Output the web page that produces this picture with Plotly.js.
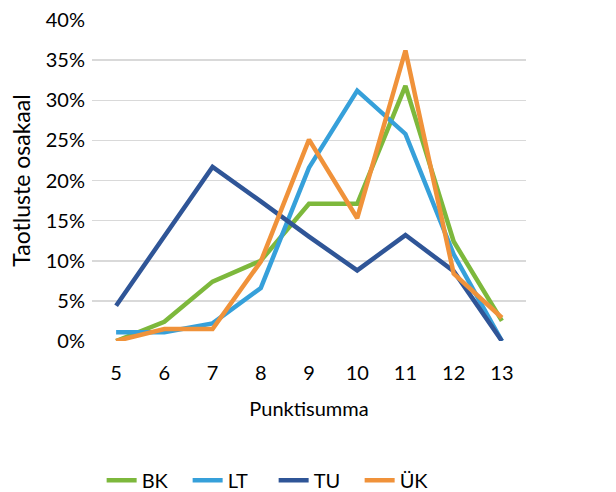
<!DOCTYPE html>
<html>
<head>
<meta charset="utf-8">
<script src="https://cdn.plot.ly/plotly-3.0.1.min.js"></script>
<style>html,body{margin:0;padding:0;background:#fff;}#chart{width:616px;height:492px;}</style>
</head>
<body>
<div id="chart"></div>
<script>
const categories = ["5","6","7","8","9","10","11","12","13"];
const BK = [0.000, 0.024, 0.074, 0.100, 0.171, 0.171, 0.318, 0.124, 0.025];
const LT = [0.011, 0.011, 0.022, 0.066, 0.216, 0.312, 0.258, 0.108, 0.000];
const TU = [0.044, 0.130, 0.217, 0.174, 0.130, 0.088, 0.132, 0.087, 0.000];
const UK = [0.000, 0.015, 0.015, 0.099, 0.251, 0.153, 0.362, 0.084, 0.029];
const seriesNames = ["BK", "LT", "TU", "ÜK"];
const seriesColors = ["#7DB83C", "#36A0DA", "#2F5597", "#F0923A"];
const seriesData = [BK, LT, TU, UK];

const traces = seriesData.map((vals, i) => ({
  type: "scatter",
  mode: "lines",
  name: seriesNames[i],
  x: categories,
  y: vals,
  line: {color: seriesColors[i], width: 4.5},
  hoverinfo: "x+y+name"
}));

const font = "Lato, 'Open Sans', sans-serif";
const layout = {
  width: 616, height: 492,
  margin: {l: 92, r: 90, t: 20, b: 151},
  paper_bgcolor: "#fff", plot_bgcolor: "#fff",
  font: {family: font, size: 20, color: "#000"},
  showlegend: true,
  legend: {orientation: "h", xref: "container", yref: "container",
           x: 0.165, xanchor: "left", y: 0.024, yanchor: "middle",
           entrywidth: 41, font: {size: 20, family: font}},
  xaxis: {
    type: "category",
    range: [-0.5, 8.5],
    showgrid: false, zeroline: false, showline: false,
    ticks: "", ticklen: 0,
    ticklabelstandoff: 18,
    tickfont: {size: 20},
    title: {text: "Punktisumma", font: {size: 20}, standoff: 18}
  },
  yaxis: {
    range: [0, 0.40],
    dtick: 0.05,
    tickformat: ".0%",
    gridcolor: "#d9d9d9", gridwidth: 1.5,
    zeroline: false, showline: false,
    ticks: "",
    ticklabelstandoff: 6,
    tickfont: {size: 20},
    title: {text: "Taotluste osakaal", font: {size: 23}, standoff: 8}
  }
};

Plotly.newPlot("chart", traces, layout, {displayModeBar: false, staticPlot: true});
</script>
</body>
</html>
